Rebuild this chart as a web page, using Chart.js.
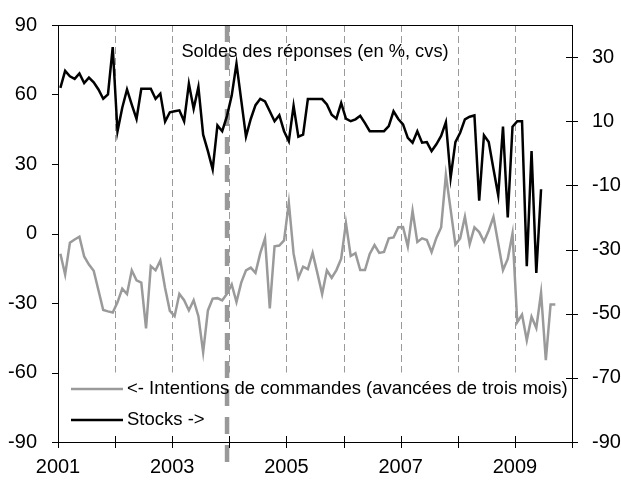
<!DOCTYPE html>
<html>
<head>
<meta charset="utf-8">
<script src="https://cdn.jsdelivr.net/npm/chart.js@4.4.0/dist/chart.umd.min.js"></script>
<style>
  html, body { margin: 0; padding: 0; background: #fff; }
  #wrap { width: 621px; height: 480px; }
</style>
</head>
<body>
<div id="wrap"><canvas id="chart" width="621" height="480"></canvas></div>
<script>
// monthly series, first value = January 2001
const START_YEAR = 2001;

// <- Intentions de commandes (avancées de trois mois), left axis
const intentions = [
  -8.7, -17.7, -4, -2.6, -1.4, -9.9, -13.4, -16.1, -24.5, -33, -33.6, -34.1,
  -29.7, -23.8, -26.1, -15.9, -20.2, -21.2, -41, -14.1, -15.9, -11.7, -23.5, -33.4,
  -35.7, -26.1, -28.8, -33.2, -28.8, -35.7, -51.3, -33.2, -28.1, -27.9, -28.9, -26,
  -22, -29.6, -21.2, -15.9, -14.7, -17, -8.5, -2.1, -32.3, -5.5, -5.2, -3,
  13.3, -8.7, -19.2, -14.3, -15.4, -8.4, -17.1, -26.1, -15.9, -19.2, -15.8, -10.9,
  4.5, -9.7, -8.5, -15.8, -15.8, -8.8, -5, -8.4, -8, -2.1, -1.7, 2.7,
  2.8, -5.6, 9.8, -3.7, -2.1, -2.8, -8, -1.9, 2.6, 25.3, 10.3, -4.8,
  -2.1, 7.2, -4.6, 2.6, 0.6, -3.5, 1.3, 7.2, -4.3, -15.8, -11, 0,
  -38.3, -35, -46.1, -35.9, -40.8, -25.6, -54.7, -30.6, -30.6
];

// Stocks ->, right axis
const stocks = [
  20.4, 25.7, 24, 23.2, 24.9, 21.9, 23.6, 22.1, 19.9, 17, 18.4, 33.1,
  6.8, 14.2, 19.9, 15.2, 10.7, 20.1, 20.1, 20.1, 17, 18.6, 9.9, 12.8,
  13.1, 13.4, 10, 21.7, 13.9, 20.7, 5.8, 0.7, -5, 8.7, 6.9, 11.6,
  18, 28, 16.6, 5.2, 10.7, 15, 17, 16.2, 13.1, 10, 11.9, 6.9,
  3.8, 14.8, 5.2, 5.8, 16.9, 16.9, 16.9, 16.9, 15.2, 12, 10.8, 15.7,
  10.8, 10, 10.6, 11.7, 9.4, 6.9, 6.9, 6.9, 6.9, 8.5, 13.1, 10.7,
  9, 4.8, 3.3, 6.9, 3.3, 3.5, 0.7, 2.8, 5.4, 9.7, -7.6, 3.5,
  6.4, 10.6, 11.4, 11.8, -14.8, 5.6, 3.5, -4.9, -13.1, 8.3, -20, 8.3,
  10, 10, -35.2, 0.7, -37.3, -11.2
];

const xTicks = [2001, 2002, 2003, 2004, 2005, 2006, 2007, 2008, 2009, 2010];
const xLabels = [2001, 2003, 2005, 2007, 2009];
const leftTicks = [-90, -60, -30, 0, 30, 60, 90];
const rightTicks = [-90, -70, -50, -30, -10, 10, 30];
const yearLines = [2002, 2003, 2004, 2005, 2006, 2007, 2008, 2009];
const yearLineBottom = -60;   // left axis value where the thin year lines stop
const breakDate = 2003.96;    // thick dashed line

const titleText = 'Soldes des réponses (en %, cvs)';
const legendLabels = ['<- Intentions de commandes (avancées de trois mois)', 'Stocks ->'];

const FONT = '"Liberation Sans", Arial, sans-serif';
const GREY = '#9a9a9a';

function toPoints(values) {
  return values.map((v, i) => ({ x: START_YEAR + (i + 0.5) / 12, y: v }));
}

// year lines, box, tick marks, title and legend
const decorations = {
  id: 'decorations',
  beforeDatasetsDraw(chart) {
    const { ctx, chartArea, scales } = chart;
    ctx.save();
    ctx.strokeStyle = GREY;
    ctx.lineWidth = 1;
    ctx.setLineDash([7, 4]);
    const yEnd = scales.y.getPixelForValue(yearLineBottom);
    yearLines.forEach(yr => {
      const x = Math.round(scales.x.getPixelForValue(yr)) + 0.5;
      ctx.beginPath();
      ctx.moveTo(x, chartArea.top);
      ctx.lineTo(x, yEnd);
      ctx.stroke();
    });
    // thick break line
    ctx.lineWidth = 4.5;
    ctx.strokeStyle = '#999';
    ctx.setLineDash([17, 11]);
    const bx = scales.x.getPixelForValue(breakDate);
    ctx.beginPath();
    ctx.moveTo(bx, chartArea.top);
    ctx.lineTo(bx, chartArea.bottom + 22);
    ctx.stroke();
    ctx.restore();
  },
  afterDatasetsDraw(chart) {
    const { ctx, chartArea, scales } = chart;
    const { left, right, top, bottom } = chartArea;
    ctx.save();
    ctx.strokeStyle = '#000';
    ctx.lineWidth = 1;
    ctx.setLineDash([]);
    ctx.strokeRect(Math.round(left) + 0.5, Math.round(top) + 0.5,
                   Math.round(right - left), Math.round(bottom - top));

    ctx.beginPath();
    leftTicks.forEach(v => {
      const y = Math.round(scales.y.getPixelForValue(v)) + 0.5;
      ctx.moveTo(left - 6, y);
      ctx.lineTo(left, y);
    });
    rightTicks.forEach(v => {
      const y = Math.round(scales.y2.getPixelForValue(v)) + 0.5;
      ctx.moveTo(right - 6, y);
      ctx.lineTo(right + 6, y);
    });
    xTicks.forEach(v => {
      const x = Math.round(scales.x.getPixelForValue(v)) + 0.5;
      ctx.moveTo(x, bottom - 6);
      ctx.lineTo(x, bottom + 6);
    });
    ctx.stroke();

    // title inside the plot
    ctx.fillStyle = '#000';
    ctx.font = '18.3px ' + FONT;
    ctx.textAlign = 'center';
    ctx.textBaseline = 'middle';
    ctx.fillText(titleText, (left + right) / 2, top + 27);

    // legend, bottom left of the plot
    ctx.font = '18.5px ' + FONT;
    ctx.textAlign = 'left';
    const rows = [bottom - 53, bottom - 22];
    chart.data.datasets.forEach((ds, i) => {
      const y = rows[i];
      ctx.strokeStyle = ds.borderColor;
      ctx.lineWidth = ds.borderWidth;
      ctx.beginPath();
      ctx.moveTo(left + 13, y);
      ctx.lineTo(left + 65, y);
      ctx.stroke();
      ctx.fillText(ds.label, left + 69, y);
    });
    ctx.restore();
  }
};

new Chart(document.getElementById('chart'), {
  type: 'line',
  data: {
    datasets: [
      {
        label: legendLabels[0],
        data: toPoints(intentions),
        yAxisID: 'y',
        borderColor: GREY,
        borderWidth: 2.5,
        pointRadius: 0,
        tension: 0,
        fill: false
      },
      {
        label: legendLabels[1],
        data: toPoints(stocks),
        yAxisID: 'y2',
        borderColor: '#000',
        borderWidth: 2.5,
        pointRadius: 0,
        tension: 0,
        fill: false
      }
    ]
  },
  options: {
    responsive: false,
    animation: false,
    events: [],
    layout: { padding: { top: 24, left: 0, right: 0, bottom: 0 } },
    plugins: {
      legend: { display: false },
      tooltip: { enabled: false },
      title: { display: false }
    },
    scales: {
      x: {
        type: 'linear',
        min: 2001,
        max: 2010,
        afterBuildTicks: s => { s.ticks = xTicks.map(v => ({ value: v })); },
        afterFit: s => { s.height = 38; },
        grid: { display: false },
        border: { display: false },
        ticks: {
          autoSkip: false,
          maxRotation: 0,
          padding: 5,
          color: '#000',
          font: { family: FONT, size: 20 },
          callback: v => xLabels.includes(v) ? String(v) : ''
        }
      },
      y: {
        position: 'left',
        min: -90,
        max: 90,
        afterBuildTicks: s => { s.ticks = leftTicks.map(v => ({ value: v })); },
        afterFit: s => { s.width = 58; },
        grid: { display: false },
        border: { display: false },
        ticks: {
          padding: 13,
          color: '#000',
          font: { family: FONT, size: 20 }
        }
      },
      y2: {
        position: 'right',
        min: -90,
        max: 40,
        afterBuildTicks: s => { s.ticks = rightTicks.map(v => ({ value: v })); },
        afterFit: s => { s.width = 49; },
        grid: { display: false },
        border: { display: false },
        ticks: {
          padding: 12,
          color: '#000',
          font: { family: FONT, size: 20 }
        }
      }
    }
  },
  plugins: [decorations]
});
</script>
</body>
</html>
